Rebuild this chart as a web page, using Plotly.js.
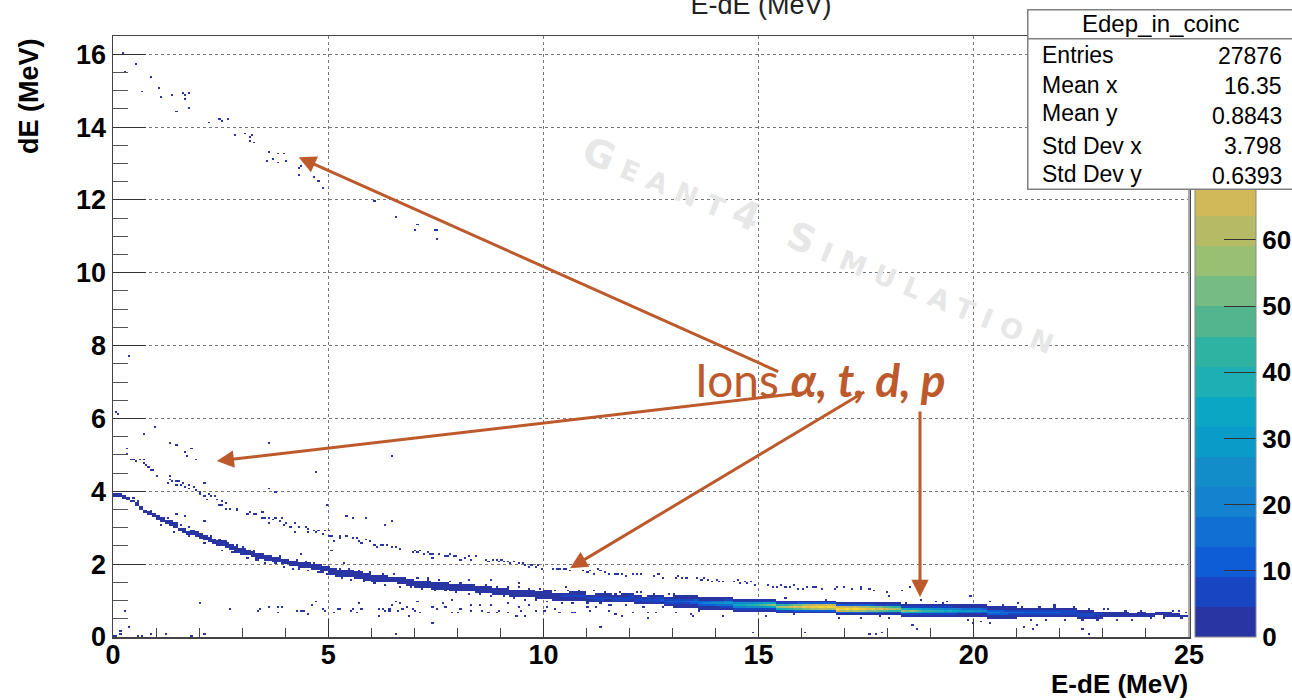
<!DOCTYPE html>
<html><head><meta charset="utf-8">
<script src="https://cdn.plot.ly/plotly-3.0.1.min.js"></script>
<style>
html,body{margin:0;padding:0;background:#fff;overflow:hidden}
#plot{width:1292px;height:700px}
</style></head><body><div id="plot"></div>
<script>
// ---- tick labels / stats ----
const xTickVals=[0,5,10,15,20,25];
const yTickVals=[0,2,4,6,8,10,12,14,16];
const statLabels=["Entries","Mean x","Mean y","Std Dev x","Std Dev y"];
const statValues=["27876","16.35","0.8843","3.798","0.6393"];
const paletteColors=["#2a35a4","#1845c2","#0f5dd6","#116ed2","#1482cf","#128dc9","#0a9cc9","#0ba6c4","#1eafb4","#2eb3a2","#52b58e","#75bb83","#98bf72","#b4bb64","#d1b858","#e0bf4c","#efcb3c","#f5d92e","#f8e81e","#fbf512"];

// ---- main band: column start (MeV), band centre dE (MeV), counts per dE bin, low to high ----
const bandX=[0,.1,.2,.3,.4,.5,.6,.7,.8,.9,1,1.1,1.2,1.3,1.4,1.5,1.6,1.7,1.8,1.9,2,2.1,2.2,2.3,2.4,2.5,2.6,2.7,2.8,2.9,3,3.1,3.2,3.3,3.4,3.5,3.6,3.7,3.8,3.9,4,4.1,4.2,4.3,4.4,4.5,4.6,4.7,4.8,4.9,
5,5.2,5.4,5.6,5.8,6,6.2,6.4,6.6,6.8,7,7.2,7.4,7.6,7.8,8,8.2,8.4,8.6,8.8,9,9.2,9.4,9.6,9.8,10,10.2,10.4,10.6,10.8,11,11.2,11.4,11.6,11.8,
12,12.1,12.2,12.3,12.4,12.5,12.6,12.7,12.8,12.9,13,13.1,13.2,13.3,13.4,13.5,13.6,13.7,13.8,13.9,14,14.1,14.2,14.3,14.4,14.5,14.6,14.7,14.8,14.9,15,15.1,15.2,15.3,15.4,15.5,15.6,15.7,15.8,15.9,16,16.1,16.2,16.3,16.4,16.5,16.6,16.7,16.8,16.9,17,17.1,17.2,17.3,17.4,17.5,17.6,17.7,17.8,17.9,18,18.1,18.2,18.3,18.4,18.5,18.6,18.7,18.8,18.9,19,19.1,19.2,19.3,19.4,19.5,19.6,19.7,19.8,19.9,20,20.1,20.2,20.3,20.4,20.5,20.6,20.7,20.8,20.9,
21,21.2,21.4,21.6,21.8,22,22.2,22.4,22.6,22.8,23,23.2,23.4,23.6,23.8,24,24.2,24.4,24.6,24.8];
const bandY=[3.90,3.88,3.85,3.78,3.72,3.63,3.55,3.47,3.41,3.33,3.27,3.21,3.14,3.08,3.03,2.97,2.92,2.86,2.83,2.78,2.74,2.70,2.65,2.61,2.57,2.53,2.50,2.45,2.42,2.37,2.33,2.29,2.26,2.22,2.18,2.16,2.13,2.11,2.09,2.06,2.04,2.02,2.00,1.97,1.95,1.93,1.91,1.88,1.86,1.83,
1.81,1.77,1.73,1.69,1.66,1.62,1.59,1.56,1.53,1.50,1.47,1.44,1.42,1.39,1.37,1.35,1.33,1.31,1.28,1.26,1.24,1.22,1.20,1.18,1.16,1.14,1.12,1.10,1.09,1.08,1.07,1.07,1.06,1.05,1.04,
1.03,1.02,1.02,1.01,1.00,.99,.99,.98,.97,.97,.96,.96,.95,.94,.93,.93,.92,.92,.91,.91,.90,.89,.88,.88,.87,.87,.86,.86,.85,.85,.84,.84,.83,.83,.82,.82,.81,.81,.80,.80,.80,.79,.79,.79,.78,.78,.78,.78,.77,.77,.76,.76,.76,.75,.75,.75,.74,.74,.74,.73,.73,.73,.73,.72,.72,.72,.72,.71,.71,.71,.71,.70,.70,.70,.70,.69,.69,.69,.69,.68,.68,.68,.68,.67,.67,.67,.67,.66,.66,.66,
.66,.65,.65,.64,.64,.63,.63,.62,.62,.61,.62,.58,.60,.62,.58,.60,.63,.58,.61,.57];
const bandCounts=[
[2,3],[2,3],[3,3],[2,3],[2],[2,2],[2,3],[3,3],[2,3],[2,1],
[2,3,1],[2,2,1],[3,3],[2,3,1],[1,2,2],[3,2],[2,3,1],[2,2],[3,2,1],[2,3,1],
[1,3,3],[2,3,2],[2,4,2],[3,3,1],[2,4,3],[3,4,2],[1,4,3],[2,4,2],[1,3,4,1],[2,4,3],
[1,4,4,2],[2,4,4],[3,4,2],[1,4,4,2],[2,4,3],[2,4,2],[3,4,1],[2,4,3],[1,4,3],[2,4,2],
[2,3,1],[1,3,3],[3,3,1],[2,4,1],[2,3,2],[3,4,2],[2,4,2],[1,4,3],[2,4,3,1],[2,4,3],
[1,4,4,2],[2,4,4,1],[1,3,4,3],[2,4,4,1],[2,4,3,2],[2,4,4,1],[1,4,4,1],[3,4,4],[2,4,3,1],[1,4,4,2],
[2,4,4,1],[1,4,4,2],[2,4,3,1],[2,4,4,2],[1,4,4,1],[1,3,4,2],[2,4,4,1],[2,4,4,2],[1,4,4,1],[2,4,3,2],
[2,4,4,2],[1,4,4,2],[2,4,4,1],[1,4,4,2],[2,4,4,2],[1,4,4,3,1],[2,4,4,2],[2,4,6,3],[2,4,5,3,1],[1,4,6,3,1],
[2,4,5,4],[2,5,6,3,1],[1,4,6,4,1],[2,5,6,3],[2,5,7,4,1],
[1,4,7,5,1],[2,5,7,4,1],[1,4,8,5,1],[2,5,7,4],[1,5,8,5,2],[2,6,8,4,1],[1,5,9,6,1],[2,6,10,5,2],[1,6,9,6,1],[2,7,11,6,1],
[1,3,7,12,8,3,1],[1,2,8,13,7,3,1],[1,3,8,12,9,3,1],[1,3,9,14,9,3,1],[2,3,10,16,9,3,1],[1,3,10,15,10,4,1],[1,4,11,18,11,3,1],[2,4,12,21,12,4,1],[1,4,11,19,13,4,2],[2,4,13,24,14,4,1],
[2,4,14,23,16,4,1],[1,5,15,27,17,4,1],[2,5,17,30,19,5,2],[1,5,16,28,20,5,1],[2,5,20,33,21,5,2],[2,5,19,36,23,6,1],[2,6,22,34,25,5,2],[1,6,24,40,24,6,1],[2,6,23,38,27,6,2],[2,7,26,44,28,6,2],
[2,7,27,48,31,7,2],[2,7,29,46,32,7,1],[2,8,31,52,33,7,2],[3,8,34,55,36,8,2],[2,8,36,58,37,8,2],[3,9,38,63,42,8,2],[2,9,40,60,45,9,3],[3,9,43,66,46,9,2],[3,10,46,70,50,9,2],[2,10,48,68,52,10,3],
[3,10,50,74,55,10,3],[3,11,54,71,60,10,2],[3,10,55,76,62,11,3],[2,11,58,73,64,10,3],[3,11,60,78,60,11,3],[3,12,62,75,66,11,2],[3,11,58,79,64,12,3],[2,12,60,76,62,11,3],[3,12,64,80,66,12,3],[3,11,60,77,68,11,2],
[3,12,62,78,64,12,3],[2,11,58,75,62,11,3],[3,12,60,79,64,11,2],[3,11,56,73,60,11,3],[2,11,58,76,58,10,3],[3,10,54,71,56,10,2],[2,11,52,74,54,10,2],[3,10,50,68,52,9,3],[2,10,48,70,50,9,2],[2,9,46,65,48,9,2],
[2,9,44,62,46,9,2],[2,9,42,60,44,8,2],[2,8,44,58,42,8,2],[2,8,40,56,40,8,1],[2,8,38,53,38,7,2],[1,8,36,55,36,8,2],[2,7,34,50,34,7,1],[2,7,32,47,33,7,2],[1,7,30,45,31,6,2],[2,6,28,44,28,6,1],
[2,6,26,42,26,6,1],[1,6,25,40,25,5,2],[2,5,23,38,24,5,1],[1,5,22,36,22,5,1],[2,5,21,37,21,5,1],[1,5,20,33,20,4,1],[1,4,18,31,19,4,1],[1,4,17,30,18,4,1],[1,4,16,28,16,4,1],[1,4,15,29,16,3,1],
[1,4,14,26,15,4,1],[1,3,14,24,14,3,1],[1,3,13,25,13,3,1],[1,3,12,22,12,3,1],[1,3,11,20,12,3,1],[1,3,11,21,11,3,1],[1,3,10,18,10,3,1],[1,3,10,17,9,2,1],[1,2,9,16,9,2,1],[1,2,9,15,8,2,1],
[2,8,14,8,2],[2,7,12,7,2],[2,7,13,6,1],[1,6,11,7,2],[2,6,10,6,1],[1,6,9,5,1],[2,5,9,5,1],[1,5,8,4,1],[2,5,7,4,1],[1,4,7,4],
[1,4,3],[2,4,2],[1,3,1],[2,4],[1,3,2],[2,3],[1,3],[2,2,1],[1,2],[1]];

// ---- ragged edge cells on both sides of the main band ----
const bandEdge=[[.55,3.70],[.85,3.47],[1.15,3.08],[1.25,3.28],[1.45,2.90],[1.55,3.08],[1.75,2.75],[1.95,2.90],[2.15,2.58],[2.25,2.78],[2.45,2.66],[2.55,2.40],[2.65,2.60],[2.75,2.33],[2.85,2.53],[2.95,2.25],[3.05,2.45],[3.15,2.18],[3.25,2.36],[3.35,2.10],[3.45,2.29],[3.55,2.03],[3.65,2.24],[3.75,2.00],[3.85,2.20],[3.95,1.94],[4.05,2.15],[4.15,1.90],[4.25,2.10],[4.35,1.85],[4.45,2.06],[4.55,1.80],[4.65,2.03],[4.75,1.76],[4.85,1.99],[4.95,1.72],[5.05,1.94],[5.15,1.66],[5.25,1.90],[5.35,1.60],[5.45,1.86],[5.55,1.57],[5.70,1.84],[5.85,1.53],[5.95,1.78],[6.10,1.49],[6.25,1.74],[6.35,1.43],[6.50,1.70],[6.65,1.40],[6.75,1.64],[6.90,1.36],[7.05,1.62],[7.15,1.32],[7.30,1.58],[7.45,1.29],[7.55,1.55],[7.70,1.25],[7.85,1.53],[7.95,1.23],[8.10,1.49],[8.25,1.19],[8.35,1.45],[8.50,1.16],[8.65,1.43],[8.75,1.12],[8.90,1.40],[9.05,1.10],[9.15,1.38],[9.30,1.07],[9.45,1.35],[9.55,1.03],[9.70,1.32],[9.85,1.02],[9.95,1.31],[10.10,.98],[10.25,1.28],[10.40,.95],[10.55,1.26],[10.70,.93],[10.85,1.26],[11.00,.92],[11.15,1.25],[11.30,.90],[11.45,1.24],[11.60,.89],[11.75,1.23],[11.90,.87],[12.15,1.21],[12.35,.83],[12.55,1.18],[12.75,.80],[12.95,1.16],[13.20,1.13],[13.60,.73],[14.30,1.06],[15.05,1.04],[15.80,.62],[16.40,.97],[17.25,.95],[17.80,.55],[18.45,.92],[19.25,.90],[19.90,.49],[20.70,.86],[21.10,.84],[21.30,.46],[21.50,.82],[21.70,.46],[21.90,.80],[22.10,.46],[22.30,.80],[22.50,.46],[22.70,.77],[22.90,.46],[23.10,.76],[23.30,.48],[23.50,.74],[23.70,.48],[23.90,.72],[24.10,.50],[24.30,.70],[24.45,.50],[24.60,.72],[24.80,.50],[24.95,.68]];

// ---- sparse ridges: [E-dE, dE] ----
const upperBand=[[.35,5.04],[.40,4.88],[.45,4.87],[.52,4.84],[.62,4.88],[.71,4.86],[.72,4.80],[.76,4.72],[.80,4.66],[.86,4.60],[.92,4.57],[1.02,4.43],[1.30,4.40],[1.33,4.35],[1.36,4.27],[1.27,4.20],[1.40,4.25],[1.46,4.25],[1.52,4.25],[1.47,4.16],[1.58,4.15],[1.62,4.22],[1.67,4.14],[1.75,4.18],[1.78,4.08],[1.85,4.12],[1.92,4.05],[2.00,3.98],[2.05,3.92],[2.10,3.88],[2.20,3.92],[2.18,3.80],[2.28,3.85],[2.35,3.85],[2.42,3.78],[2.50,3.70],[2.47,3.62],[2.55,3.60],[2.60,3.68],[2.63,3.50],[2.72,3.52],[2.85,3.55],[2.90,3.46],[3.10,3.39],[3.16,3.40],[3.25,3.35],[3.33,3.39],[3.49,3.42],[3.45,3.26],[3.52,3.30],[3.60,3.26],[3.60,3.14],[3.70,3.22],[3.80,3.30],[3.86,3.18],[3.91,3.26],[3.99,3.07],[4.05,3.14],[4.12,3.02],[4.22,3.10],[4.22,2.85],[4.33,3.04],[4.45,3.03],[4.50,2.95],[4.53,2.89],[4.65,2.94],[4.72,2.85],[4.80,2.94],[4.86,2.82],[4.92,2.92],[5.00,2.92],[5.00,2.75],[5.07,2.75],[5.12,2.62],[5.27,2.75],[5.30,2.70],[5.42,2.77],[5.58,2.73],[5.66,2.70],[5.73,2.62],[5.80,2.58],[5.89,2.66],[5.95,2.60],[6.08,2.53],[6.12,2.48],[6.20,2.51],[6.30,2.51],[6.39,2.51],[6.45,2.48],[6.58,2.48],[6.66,2.43],[6.95,2.34],[7.00,2.40],[7.06,2.34],[7.12,2.36],[7.20,2.30],[7.30,2.34],[7.36,2.27],[7.44,2.30],[7.44,2.16],[7.58,2.27],[7.70,2.23],[7.76,2.23],[7.82,2.26],[7.90,2.20],[7.96,2.23],[8.10,2.14],[8.18,2.19],[8.26,2.22],[8.32,2.12],[8.40,2.24],[8.70,2.15],[8.74,2.07],[8.82,2.11],[8.90,2.13],[8.96,2.06],[9.02,2.11],[9.10,2.07],[9.18,2.09],[9.24,2.03],[9.32,2.07],[9.40,2.02],[9.50,2.00],[9.58,1.96],[9.65,1.93],[9.72,1.98],[9.80,1.92],[9.88,1.97],[9.96,1.90],[10.22,1.87],[10.30,1.87],[10.38,1.85],[10.46,1.88],[10.54,1.87],[10.62,1.84],[10.90,1.83],[11.00,1.78],[11.06,1.82],[11.20,1.74],[11.28,1.86],[11.34,1.80],[11.40,1.76],[11.50,1.74],[11.65,1.74],[11.74,1.70],[11.82,1.73],[11.90,1.68],[12.08,1.70],[12.16,1.73],[12.26,1.72],[12.60,1.66],[12.66,1.72],[12.76,1.64],[13.05,1.60],[13.13,1.66],[13.22,1.63],[13.30,1.60],[13.58,1.60],[13.66,1.57],[13.74,1.62],[13.84,1.58],[13.92,1.50],[14.00,1.58],[14.08,1.54],[14.16,1.52],[14.42,1.52],[14.50,1.56],[14.58,1.47],[14.66,1.52],[14.74,1.46],[14.84,1.50],[14.92,1.43],[15.22,1.44],[15.30,1.40],[15.42,1.36],[15.50,1.44],[15.62,1.40],[15.72,1.38],[15.82,1.42],[15.92,1.34],[16.04,1.34],[16.10,1.37],[16.27,1.40],[16.32,1.38],[16.46,1.34],[16.77,1.34],[16.82,1.38],[16.97,1.36],[17.16,1.34],[17.35,1.36],[17.40,1.33],[17.55,1.31],[17.70,1.25],[17.97,1.21]];
const lowerBand=[[3.37,.72],[3.42,.78],[3.61,.82],[3.81,.82],[3.83,.69],[3.92,.82],[4.30,.72],[4.38,.72],[4.43,.72],[4.51,.62],[4.63,.88],[4.72,.97],[4.86,.78],[4.90,.72],[5.11,.69],[5.21,.77],[5.27,.77],[5.54,.72],[5.58,.78],[5.65,.69],[5.71,.94],[5.77,.77],[6.17,.77],[6.17,.58],[6.26,.77],[6.34,.72],[6.40,.77],[6.44,.72],[6.49,.88],[6.60,.97],[6.63,.72],[6.68,.92],[6.74,.78],[6.85,.83],[6.88,.58],[6.97,.78],[7.00,.74],[7.09,.97],[7.12,.65],[7.43,.83],[7.51,.78],[7.66,.92],[7.70,.81],[7.88,1.02],[7.86,.70],[8.02,.65],[8.05,.78],[8.30,.85],[8.32,.74],[8.52,.88],[8.56,.74],[8.71,.70],[8.75,.85],[8.95,.65],[8.99,.74],[9.15,.90],[9.17,.65],[9.41,.83],[9.39,.60],[9.49,.74],[9.56,.60],[9.67,.85],[9.84,.74],[10.00,.74],[10.07,.81],[10.26,.76],[10.38,.70],[10.65,.70],[10.73,.70],[11.00,.83],[11.08,.74],[11.23,.81],[11.50,.85],[11.50,.74],[11.69,.62],[11.81,.60],[12.40,.65],[12.40,.51],[12.10,.68],[12.62,.70],[13.05,.66],[13.40,.62]];
const topBand=[[.22,16.02],[.28,15.53],[.52,15.73],[.87,15.38],[.67,14.98],[1.07,15.08],[1.12,14.83],[1.37,14.89],[1.46,14.44],[1.63,14.93],[1.68,14.88],[1.77,14.93],[1.67,14.78],[1.77,14.53],[2.22,14.13],[2.48,14.23],[2.53,14.19],[2.67,14.23],[2.81,13.78],[3.07,13.83],[3.21,13.78],[3.18,13.72],[3.18,13.63],[3.27,13.59],[3.61,13.33],[3.82,13.28],[3.97,13.28],[3.56,13.07],[3.71,13.13],[3.82,13.03],[4.02,13.08],[4.31,12.88],[4.36,12.93],[4.31,12.68],[4.67,12.63],[4.77,12.53],[4.86,12.32],[6.07,11.97],[6.56,11.53],[7.07,11.33],[7.02,11.18],[7.45,11.18],[7.50,11.18],[7.52,10.93]];
const strayPoints=[[.39,7.74],[.08,6.17],[.12,6.13],[.71,5.58],[.97,5.78],[1.32,5.33],[1.46,5.28],[1.67,5.08],[1.82,5.19],[1.73,4.98],[1.92,4.88],[.33,5.18],[3.61,5.33],[2.11,4.23],[3.61,4.07],[3.77,3.97],[4.72,4.53],[4.97,3.63],[6.47,4.98],[5.42,3.32],[5.56,3.28],[5.86,3.28],[6.31,3.07],[6.47,3.18],[1.67,3.32],[2.11,3.18],[4.36,2.28],[5.10,2.38],[5.36,2.02],[.46,3.82],[1.77,3.03],[1.47,3.35],[2.01,.94],[2.72,.77],[.27,.72],[.37,.28],[.17,.19],[.04,.03],[.08,.03],[.19,.07],[.58,.03],[.66,.03],[.87,.07],[1.22,.07],[1.82,.03],[2.15,.07],[6.55,.07],[7.41,.38],[11.30,.28],[14.85,.13],[16.09,.13],[17.55,.09],[17.73,.09],[17.86,.13],[18.55,.33],[18.67,.22],[19.97,.38],[20.20,.44],[20.35,.38],[21.20,.28],[21.36,.22],[21.46,.33],[22.50,.22],[22.70,.09],[19.91,1.13],[20.35,.97],[18.75,1.03],[18.52,1.38],[18.32,1.29],[18.01,1.13],[16.56,1.03],[8.27,1.56],[8.79,1.56],[7.32,1.62],[10.51,1.38],[9.45,1.47],[11.70,1.20],[12.25,1.22],[13.00,1.18],[13.48,.58],[14.20,.60],[15.20,.56],[15.60,1.08],[16.90,.52],[17.35,.50],[18.00,.52],[19.10,.96],[19.40,.98],[21.00,.92],[21.90,.86],[23.00,.78],[23.90,.74],[24.75,.72],[24.90,.56]];

// ---- histogram grid ----
const binX=0.05, binY=0.05, nX=500, nY=330;
const z=Array.from({length:nY},()=>new Array(nX).fill(null));
function addCell(ix,iy,c){ if(ix>=0&&ix<nX&&iy>=0&&iy<nY) z[iy][ix]=(z[iy][ix]||0)+c; }
bandX.forEach((x0,i)=>{
  const x1=i+1<bandX.length?bandX[i+1]:25;
  const iy0=Math.round(bandY[i]/binY)-Math.floor(bandCounts[i].length/2);
  for(let ix=Math.round(x0/binX);ix<Math.round(x1/binX);ix++)
    bandCounts[i].forEach((c,k)=>addCell(ix,iy0+k,c));
});
[bandEdge,upperBand,lowerBand,topBand,strayPoints].forEach(list=>list.forEach(p=>addCell(Math.floor(p[0]/binX),Math.floor(p[1]/binY),1)));

const zMax=90.8;
const colorscale=[];
paletteColors.forEach((c,i)=>{colorscale.push([i/20,c]);colorscale.push([(i+1)/20,c]);});

const trace={type:'heatmap',z:z,x0:binX/2,dx:binX,y0:binY/2,dy:binY,zmin:0,zmax:zMax,colorscale:colorscale,hoverongaps:false,zsmooth:false,
 colorbar:{thickness:61,thicknessmode:'pixels',len:601,lenmode:'pixels',x:(1195-113)/1076,xanchor:'left',xpad:0,y:0,yanchor:'bottom',ypad:0,
  outlinecolor:'#888',outlinewidth:1,tick0:0,dtick:10,ticks:'inside',ticklen:32,tickwidth:1,tickcolor:'#333',
  tickfont:{family:'Liberation Sans',size:26,weight:'bold',color:'#000'}}};

const px=v=>(v-113)/1076, py=v=>(637-v)/601;
const rust='#bd5a2c';
const ann=[];
function txt(text,x,y,size,opts){ann.push(Object.assign({text:text,xref:'paper',yref:'paper',x:px(x),y:py(y),showarrow:false,xanchor:'left',yanchor:'middle',font:{family:'Liberation Sans',size:size,color:'#000'}},opts||{}));}
function arrow(x,y,ax,ay){ann.push({text:'',xref:'x',yref:'y',axref:'x',ayref:'y',x:x,y:y,ax:ax,ay:ay,showarrow:true,arrowhead:2,arrowsize:1.15,arrowwidth:3,arrowcolor:rust,standoff:0});}

// watermark
txt('Geant4 Simulation',823,247,38,{xanchor:'center',textangle:22.5,font:{family:'DejaVu Sans',size:38,weight:'bold',color:'#e7e7e7',variant:'small-caps'}});
// arrows: tip then tail, in MeV
arrow(4.315,13.17,15.49,7.27);
arrow(2.41,4.83,16.14,6.72);
arrow(10.62,1.89,17.49,6.75);
arrow(18.75,1.10,18.75,6.23);
txt('Ions <b><i>α, t, d, p</i></b>',693,380,46,{font:{family:'Lato',size:46,color:rust}});
// axis titles
txt('E-dE (MeV)',1190,684,26,{xanchor:'right',font:{family:'Liberation Sans',size:26,weight:'bold',color:'#000'}});
txt('dE (MeV)',29,96,27,{xanchor:'center',textangle:-90,font:{family:'Liberation Sans',size:27,weight:'bold',color:'#000'}});
// stats box
const boxStyle={xanchor:'left',yanchor:'top',bgcolor:'#fff',bordercolor:'#808080',borderwidth:1.5,borderpad:0};
txt('\u00a0',1027,9,10,Object.assign({width:270,height:28},boxStyle));
txt('\u00a0',1027,38,10,Object.assign({width:270,height:149},boxStyle));
txt('Edep_in_coinc',1160,23,24,{xanchor:'center'});
const labelY=[55,85,113,146,174], valueY=[56,86,116,146,176];
statLabels.forEach((s,i)=>{txt(s,1040,labelY[i],23);txt(statValues[i],1284,valueY[i],23,{xanchor:'right'});});

const tickFont={family:'Liberation Sans',size:27,weight:'bold',color:'#000'};
const layout={width:1292,height:700,margin:{l:113,r:103,t:36,b:63,pad:0,autoexpand:false},paper_bgcolor:'#fff',plot_bgcolor:'#fff',showlegend:false,
 title:{text:'E-dE (MeV)',font:{family:'Liberation Sans',size:27,color:'#222'},xref:'container',yref:'container',x:761/1292,xanchor:'center',y:0.994,yanchor:'middle'},
 xaxis:{range:[0,25],tickvals:xTickVals,ticks:'inside',ticklen:18,tickwidth:1,tickcolor:'#333',tickfont:tickFont,ticklabelstandoff:-7,showline:true,mirror:true,linecolor:'#444',linewidth:1.5,showgrid:true,gridcolor:'#777',griddash:'dot',gridwidth:1,zeroline:false,
   minor:{dtick:1,ticks:'inside',ticklen:9,tickwidth:1,tickcolor:'#444',showgrid:false}},
 yaxis:{range:[0,16.5],tickvals:yTickVals,ticks:'inside',ticklen:33,tickwidth:1,tickcolor:'#333',tickfont:tickFont,showline:true,mirror:true,linecolor:'#444',linewidth:1.5,showgrid:true,gridcolor:'#777',griddash:'dot',gridwidth:1,zeroline:false,
   minor:{dtick:.5,ticks:'inside',ticklen:15,tickwidth:1,tickcolor:'#555',showgrid:false}},
 shapes:[{type:'line',xref:'paper',yref:'paper',x0:1,x1:1,y0:0,y1:1,line:{color:'#aaa',width:2},layer:'above'}],
 annotations:ann};
Plotly.newPlot('plot',[trace],layout,{staticPlot:true,displayModeBar:false}).then(()=>{
  const w=document.querySelector('.annotation[data-index="0"] text');
  if(w) w.style.letterSpacing='10px';
});
</script></body></html>
